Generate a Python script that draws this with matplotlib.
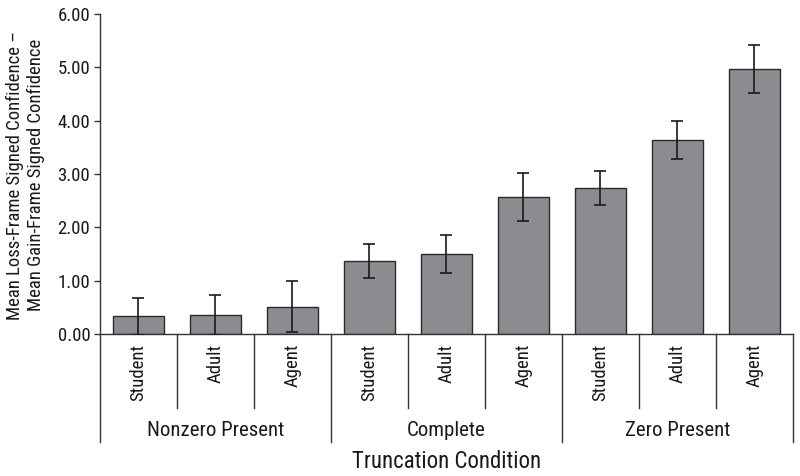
import matplotlib
matplotlib.use("Agg")
import matplotlib.pyplot as plt
from matplotlib.transforms import blended_transform_factory

plt.rcParams['font.family'] = ['Roboto Condensed', 'DejaVu Sans']

groups = ["Nonzero Present", "Complete", "Zero Present"]
roles = ["Student", "Adult", "Agent"]
means = [0.33, 0.36, 0.51, 1.37, 1.50, 2.57, 2.74, 3.64, 4.96]
errors = [0.34, 0.38, 0.48, 0.32, 0.36, 0.45, 0.32, 0.36, 0.45]
yticks = [0.0, 1.0, 2.0, 3.0, 4.0, 5.0, 6.0]

fig = plt.figure(figsize=(8.0, 4.76), dpi=100)
ax = fig.add_axes([0.125, 0.2983, 0.866, 0.6723])

labels = [r for g in groups for r in roles]
x = list(range(len(labels)))
ax.bar(x, means, width=0.66, color="#8b8c90", edgecolor="#2a2a2a", linewidth=1.0, zorder=2)
ax.errorbar(x, means, yerr=errors, fmt="none", ecolor="#1a1a1a", elinewidth=1.2,
            capsize=4.5, capthick=1.2, zorder=3)

ax.set_xlim(-0.5, len(labels) - 0.5)
ax.set_ylim(0, 6)
ax.set_yticks(yticks, [f"{v:.2f}" for v in yticks], fontsize=13.5)
ax.tick_params(axis="y", length=4, width=1, color="#333333", pad=3, labelcolor="#1a1a1a")
ax.set_xticks(x, labels, rotation=90, fontsize=13.5, va="top", ha="center")
ax.tick_params(axis="x", length=0, pad=7, labelcolor="#1a1a1a")

for s in ["top", "right"]:
    ax.spines[s].set_visible(False)
for s in ["left", "bottom"]:
    ax.spines[s].set_color("#333333")
    ax.spines[s].set_linewidth(1.0)

trans = blended_transform_factory(ax.transData, ax.transAxes)
ax_h_px = 0.6723 * 476
minor_len = 74 / ax_h_px
major_len = 108 / ax_h_px
n = len(roles)
for i in range(len(labels) + 1):
    xb = i - 0.5
    if i % n == 0:
        ax.plot([xb, xb], [0, -major_len], transform=trans, color="#333333",
                lw=1.0, clip_on=False)
    else:
        ax.plot([xb, xb], [0, -minor_len], transform=trans, color="#333333",
                lw=1.0, clip_on=False)

for gi, g in enumerate(groups):
    cx = gi * n + (n - 1) / 2
    ax.text(cx, -(430 - 334) / ax_h_px, g, transform=trans, ha="center", va="center",
            fontsize=15, color="#1a1a1a")

ax.text(0.5, -(461 - 334) / ax_h_px, "Truncation Condition", transform=ax.transAxes,
        ha="center", va="center", fontsize=16.5, color="#1a1a1a")

fig.text(25.5 / 800, 1 - 175 / 476,
         "Mean Loss-Frame Signed Confidence \u2013\nMean Gain-Frame Signed Confidence",
         rotation=90, ha="center", va="center", fontsize=13.5, linespacing=1.2,
         color="#1a1a1a")

fig.savefig("out.png", dpi=100)
